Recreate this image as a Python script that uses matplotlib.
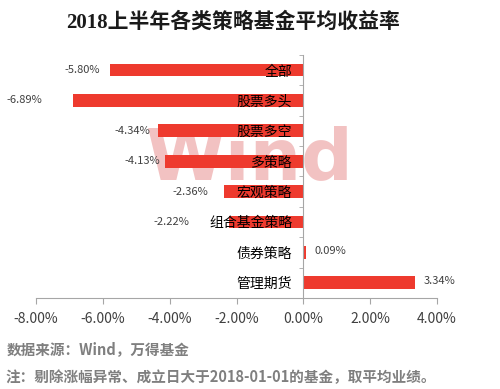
import matplotlib

matplotlib.use("Agg")
import matplotlib.pyplot as plt
import numpy as np

plt.rcParams["font.family"] = ["Noto Sans CJK SC", "DejaVu Sans"]

categories = ["全部", "股票多头", "股票多空", "多策略", "宏观策略", "组合基金策略", "债券策略", "管理期货"]
returns = [-5.80, -6.89, -4.34, -4.13, -2.36, -2.22, 0.09, 3.34]
value_labels = ["-5.80%", "-6.89%", "-4.34%", "-4.13%", "-2.36%", "-2.22%", "0.09%", "3.34%"]
x_ticks = [-8, -6, -4, -2, 0, 2, 4]

# label gap from bar end, in points (hand placed in the source chart)
label_gaps = [7, 22, 6, 4, 12, 29, 6, 6]

bar_color = "#EE3A2E"
text_color = "#404040"
axis_color = "#A6A6A6"

fig = plt.figure(figsize=(5.0, 3.89), dpi=100)
ax = fig.add_axes([0.072, 0.234, 0.802, 0.625])
ax.set_axisbelow(False)

y = np.arange(len(categories))
ax.barh(y, returns, height=0.42, color=bar_color, zorder=1)

ax.text(-1.6, 2.95, "Wind", fontsize=52, fontweight="bold", family="DejaVu Sans",
        color="#EFB3B3", alpha=0.8, ha="center", va="center", zorder=0.5)

for yi, val, lab, gap in zip(y, returns, value_labels, label_gaps):
    if val < 0:
        ax.annotate(lab, (val, yi), xytext=(-gap, 0), textcoords="offset points",
                    ha="right", va="center", fontsize=8, color=text_color)
    else:
        ax.annotate(lab, (val, yi), xytext=(gap, 1), textcoords="offset points",
                    ha="left", va="center", fontsize=8, color=text_color)

ax.set_xlim(-8, 4)
ax.set_ylim(len(categories) - 0.5, -0.5)
ax.set_xticks(x_ticks)
ax.set_xticklabels([f"{t:.2f}%" for t in x_ticks], fontsize=10, color=text_color)
ax.tick_params(axis="x", length=4, color=axis_color, pad=6)

ax.set_yticks(y)
ax.set_yticklabels(categories, fontsize=10, color=text_color)
ax.tick_params(axis="y", which="major", length=0, pad=8)
ax.set_yticks(np.arange(-0.5, len(categories), 1.0), minor=True)
ax.tick_params(axis="y", which="minor", length=3, color=axis_color, direction="out")

for side in ["top", "right"]:
    ax.spines[side].set_visible(False)
ax.spines["bottom"].set_color(axis_color)

# y axis sits on the zero line, category names drawn over the bars
ax.spines["left"].set_position(("data", 0))
ax.spines["left"].set_color(axis_color)

fig.text(0.466, 0.943, "2018上半年各类策略基金平均收益率", ha="center", va="center",
         fontsize=15, fontweight="bold", color="#1a1a1a",
         family=["Liberation Serif", "Noto Sans CJK SC"])
fig.text(0.014, 0.103, "数据来源：Wind，万得基金", ha="left", va="center",
         fontsize=10.5, fontweight="bold", color="#7F7F7F")
fig.text(0.01, 0.031, "注：剔除涨幅异常、成立日大于2018-01-01的基金，取平均业绩。", ha="left", va="center",
         fontsize=10.5, fontweight="bold", color="#7F7F7F")

fig.savefig("out.png", dpi=100)
